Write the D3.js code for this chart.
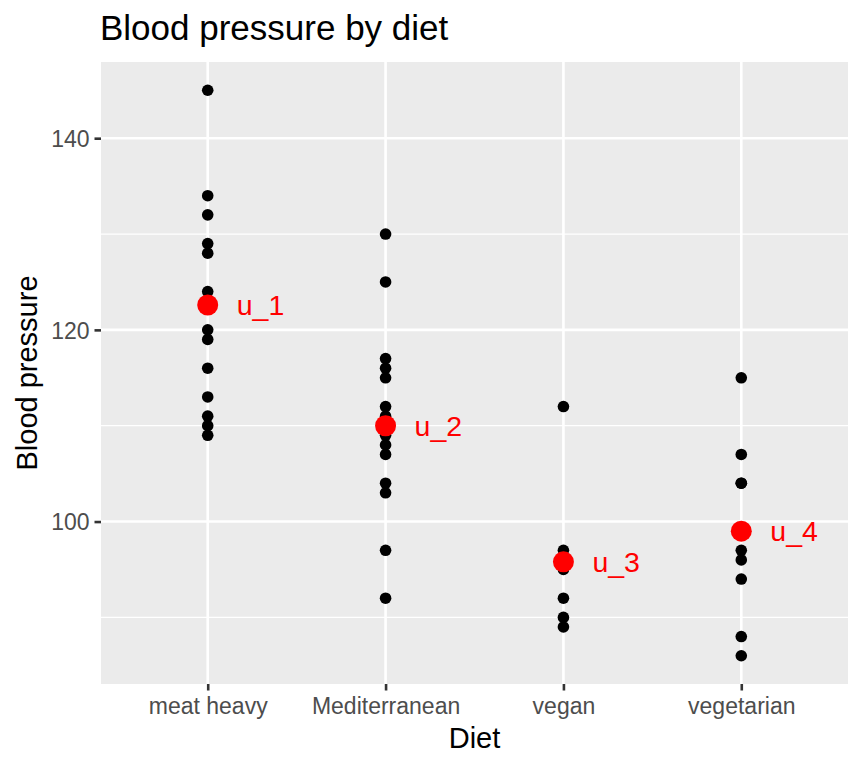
<!DOCTYPE html>
<html>
<head>
<meta charset="utf-8">
<script src="https://cdn.jsdelivr.net/npm/d3@7"></script>
<style>
  body { margin: 0; background: #fff; }
  text { font-family: "Liberation Sans", Arial, sans-serif; }
</style>
</head>
<body>
<svg id="chart"></svg>
<script>
// diets in plotting order
const diets = ["meat heavy", "Mediterranean", "vegan", "vegetarian"];

// blood pressure readings per diet
const meatHeavy = [145, 134, 132, 129, 128, 124, 123, 120, 119, 116, 113, 111, 110, 109];
const mediterranean = [130, 125, 117, 116, 115, 112, 111, 110, 109, 108, 107, 104, 103, 97, 92];
const vegan = [112, 97, 96, 95, 92, 90, 89];
const vegetarian = [115, 107, 104, 104, 97, 96, 94, 88, 86];

// group means and their labels
const meanValues = [122.6, 110.0, 95.8, 99.0];
const meanLabels = ["u_1", "u_2", "u_3", "u_4"];

const yTicks = [100, 120, 140];
const yMinor = [90, 110, 130];

let width = 864;
let height = 768;
let margin = { top: 62, right: 16, bottom: 84, left: 101 };

let svg = d3.select("#chart").attr("width", width).attr("height", height);

let points = [];
[meatHeavy, mediterranean, vegan, vegetarian].forEach((arr, i) => {
  arr.forEach((v) => points.push({ diet: diets[i], bp: v }));
});
let means = diets.map((d, i) => ({ diet: d, bp: meanValues[i], label: meanLabels[i] }));

let x = d3
  .scalePoint()
  .domain(diets)
  .range([margin.left, width - margin.right])
  .padding(0.6);

let yExt = d3.extent(points, (d) => d.bp);
let pad = (yExt[1] - yExt[0]) * 0.05;
let y = d3
  .scaleLinear()
  .domain([yExt[0] - pad, yExt[1] + pad])
  .range([height - margin.bottom, margin.top]);

// panel
svg
  .append("rect")
  .attr("x", margin.left)
  .attr("y", margin.top)
  .attr("width", width - margin.left - margin.right)
  .attr("height", height - margin.top - margin.bottom)
  .style("fill", "#ebebeb");

let grid = svg.append("g");
grid
  .selectAll(".minor")
  .data(yMinor)
  .join("line")
  .attr("x1", margin.left)
  .attr("x2", width - margin.right)
  .attr("y1", (d) => y(d))
  .attr("y2", (d) => y(d))
  .style("stroke", "#fff")
  .style("stroke-width", 1.3);
grid
  .selectAll(".major")
  .data(yTicks)
  .join("line")
  .attr("x1", margin.left)
  .attr("x2", width - margin.right)
  .attr("y1", (d) => y(d))
  .attr("y2", (d) => y(d))
  .style("stroke", "#fff")
  .style("stroke-width", 2.6);
grid
  .selectAll(".vert")
  .data(diets)
  .join("line")
  .attr("x1", (d) => x(d))
  .attr("x2", (d) => x(d))
  .attr("y1", margin.top)
  .attr("y2", height - margin.bottom)
  .style("stroke", "#fff")
  .style("stroke-width", 2.6);

// axes
let xAxis = svg
  .append("g")
  .attr("transform", `translate(0,${height - margin.bottom})`)
  .call(d3.axisBottom(x).tickSize(6.5).tickPadding(5));
let yAxis = svg
  .append("g")
  .attr("transform", `translate(${margin.left},0)`)
  .call(d3.axisLeft(y).tickValues(yTicks).tickSize(6.5).tickPadding(5));

[xAxis, yAxis].forEach((a) => {
  a.select(".domain").remove();
  a.selectAll(".tick line").style("stroke", "#333").style("stroke-width", 2.6);
  a.selectAll(".tick text")
    .style("fill", "#4d4d4d")
    .style("font-size", "23px")
    .style("font-family", "Liberation Sans, Arial, sans-serif");
});
xAxis.selectAll(".tick text").attr("dy", "0.8em");
yAxis.selectAll(".tick text").attr("dy", "0.36em");

// raw points
svg
  .append("g")
  .selectAll("circle")
  .data(points)
  .join("circle")
  .attr("cx", (d) => x(d.diet))
  .attr("cy", (d) => y(d.bp))
  .attr("r", 5.8)
  .style("fill", "#000");

// means
svg
  .append("g")
  .selectAll("circle")
  .data(means)
  .join("circle")
  .attr("cx", (d) => x(d.diet))
  .attr("cy", (d) => y(d.bp))
  .attr("r", 10.5)
  .style("fill", "#ff0000");

svg
  .append("g")
  .selectAll("text")
  .data(means)
  .join("text")
  .attr("x", (d) => x(d.diet) + 29)
  .attr("y", (d) => y(d.bp))
  .attr("dy", "0.36em")
  .style("font-size", "28.5px")
  .style("fill", "#ff0000")
  .text((d) => d.label);

// titles
svg
  .append("text")
  .attr("x", margin.left - 1)
  .attr("y", 40)
  .style("font-size", "35px")
  .style("fill", "#000")
  .text("Blood pressure by diet");

svg
  .append("text")
  .attr("x", (margin.left + width - margin.right) / 2)
  .attr("y", 748)
  .attr("text-anchor", "middle")
  .style("font-size", "29px")
  .style("fill", "#000")
  .text("Diet");

svg
  .append("text")
  .attr("transform", `translate(37,${(margin.top + height - margin.bottom) / 2}) rotate(-90)`)
  .attr("text-anchor", "middle")
  .style("font-size", "29px")
  .style("fill", "#000")
  .text("Blood pressure");
</script>
</body>
</html>
